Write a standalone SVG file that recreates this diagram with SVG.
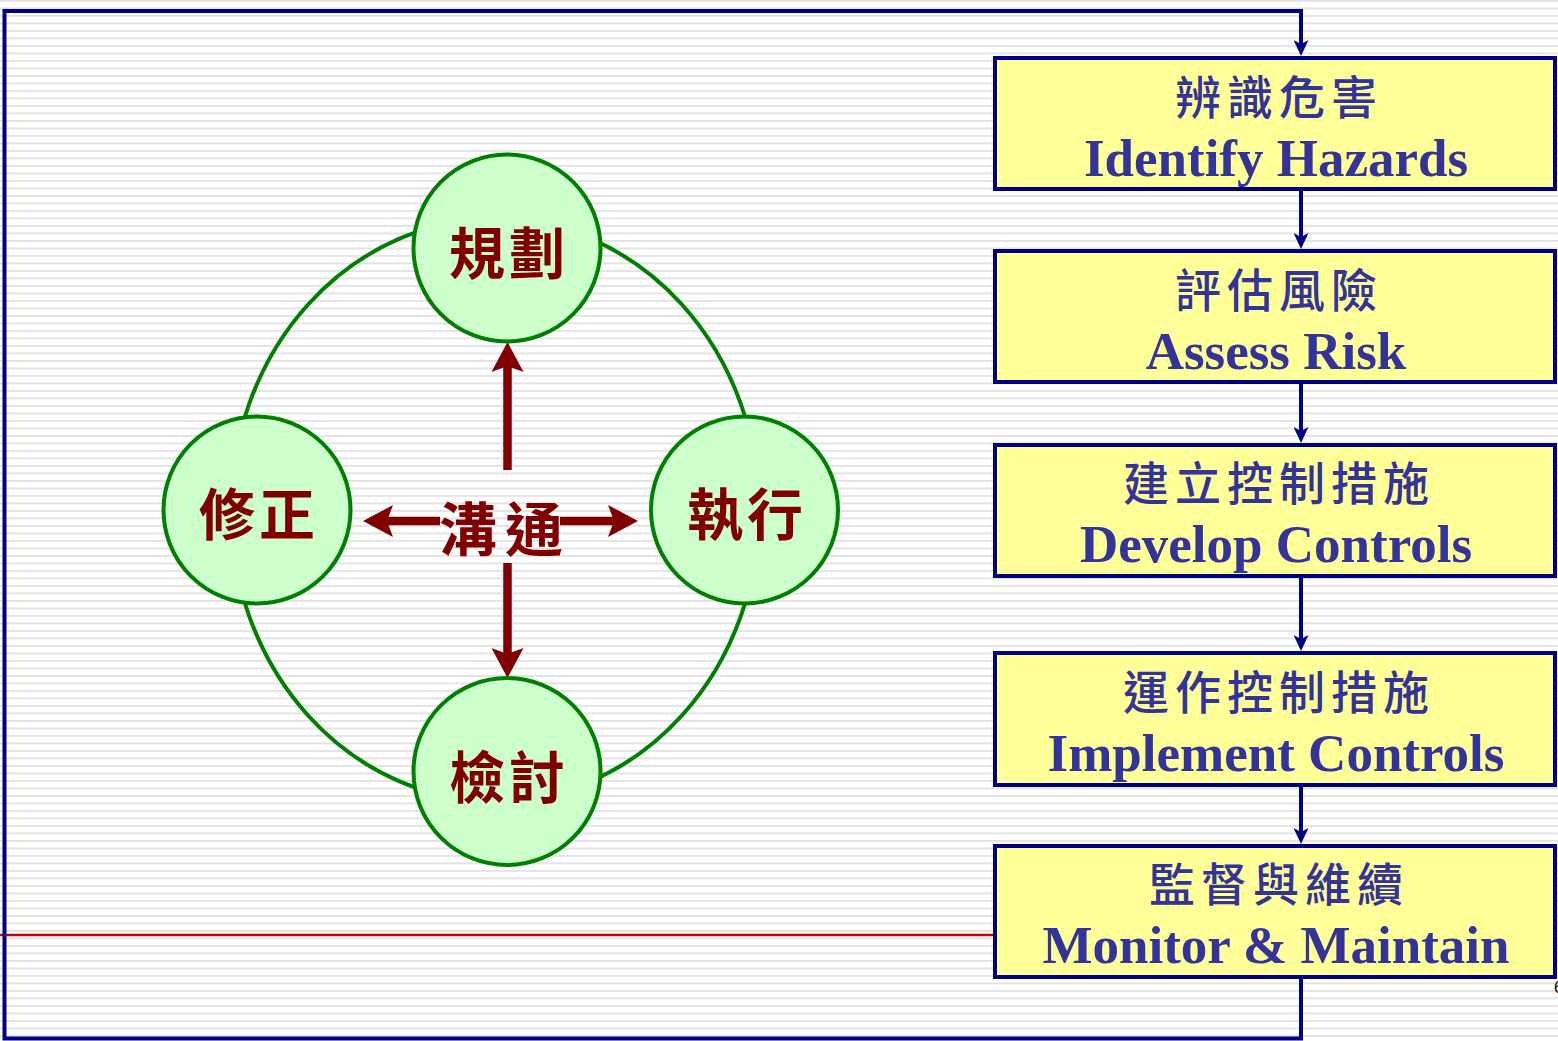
<svg xmlns="http://www.w3.org/2000/svg" width="1558" height="1041" viewBox="0 0 1558 1041">
<defs>
<pattern id="bg" x="0" y="0" width="16" height="7.5" patternUnits="userSpaceOnUse">
<rect width="16" height="7.5" fill="#ffffff"/>
<rect y="0" width="16" height="1.8" fill="#e2e2e2"/>
</pattern>
<marker id="navyArrow" viewBox="0 0 16 15" refX="4" refY="7.5" markerWidth="16" markerHeight="15" markerUnits="userSpaceOnUse" orient="auto">
<path d="M0,0 L16,7.5 L0,15 L4,7.5 z" fill="#000080"/>
</marker>
<marker id="redArrow" viewBox="0 0 30 32" refX="6" refY="16" markerWidth="30" markerHeight="32" markerUnits="userSpaceOnUse" orient="auto">
<path d="M0,0 L30,16 L0,32 L6,16 z" fill="#800000"/>
</marker>
<style>
.box{fill:#ffff99;stroke:#000080;stroke-width:4}
.zh{font-family:"Noto Sans CJK TC","Noto Sans CJK SC",sans-serif;font-size:46px;font-weight:500;fill:#333399;letter-spacing:6px;text-anchor:middle}
.en{font-family:"Liberation Serif","Times New Roman",serif;font-size:53px;font-weight:bold;fill:#333399;text-anchor:middle}
.node{fill:#ccffcc;stroke:#008000;stroke-width:4}
.ctext{font-family:"Noto Sans CJK TC","Noto Sans CJK SC",sans-serif;font-size:56px;font-weight:bold;fill:#800000;letter-spacing:4px;text-anchor:middle}
.navy{fill:none;stroke:#000080;stroke-width:4;marker-end:url(#navyArrow)}
.red{fill:none;stroke:#800000;stroke-width:8.5;marker-end:url(#redArrow)}
</style>
</defs>
<rect width="1558" height="1041" fill="url(#bg)"/>
<line x1="0" y1="935" x2="995" y2="935" stroke="#cc0000" stroke-width="2.5"/>
<ellipse cx="495" cy="510" rx="264" ry="291" fill="none" stroke="#008000" stroke-width="4"/>
<g id="connectors">
<path class="navy" d="M1301,978 V1038.5 H4.5 V11 H1301 V44"/>
<path class="navy" d="M1301,191 V237"/>
<path class="navy" d="M1301,384 V431"/>
<path class="navy" d="M1301,578 V639"/>
<path class="navy" d="M1301,787 V832"/>
<path class="red" d="M440,521 H387"/>
<path class="red" d="M560,521 H614"/>
<path class="red" d="M507.5,470 V366"/>
<path class="red" d="M507.5,563 V654"/>
</g>
<g id="plan">
<circle class="node" cx="507" cy="248" r="93.5"/>
<text class="ctext" x="509" y="274">規劃</text>
</g>
<g id="execute">
<circle class="node" cx="744.5" cy="510" r="93.5"/>
<text class="ctext" x="747" y="535">執行</text>
</g>
<g id="review">
<circle class="node" cx="507" cy="771.5" r="93.5"/>
<text class="ctext" x="509" y="798">檢討</text>
</g>
<g id="correct">
<circle class="node" cx="257" cy="510" r="93.5"/>
<text class="ctext" x="259" y="535">修正</text>
</g>
<g id="communicate">
<text class="ctext" x="505" y="551" style="font-size:58px;letter-spacing:8px">溝通</text>
</g>
<g id="identify">
<rect class="box" x="995" y="58" width="560" height="131"/>
<text class="zh" x="1279" y="114">辨識危害</text>
<text class="en" x="1276" y="176">Identify Hazards</text>
</g>
<g id="assess">
<rect class="box" x="995" y="251" width="560" height="131"/>
<text class="zh" x="1279" y="307">評估風險</text>
<text class="en" x="1276" y="369">Assess Risk</text>
</g>
<g id="develop">
<rect class="box" x="995" y="445" width="560" height="131"/>
<text class="zh" x="1279" y="500">建立控制措施</text>
<text class="en" x="1276" y="562">Develop Controls</text>
</g>
<g id="implement">
<rect class="box" x="995" y="653" width="560" height="132"/>
<text class="zh" x="1279" y="709">運作控制措施</text>
<text class="en" x="1276" y="771">Implement Controls</text>
</g>
<g id="monitor">
<rect class="box" x="995" y="846" width="560" height="131"/>
<text class="zh" x="1279" y="901">監督與維續</text>
<text class="en" x="1276" y="963">Monitor &amp; Maintain</text>
</g>
<text x="1554" y="993" font-family="Liberation Sans, sans-serif" font-size="16" fill="#000000">6</text>
</svg>
